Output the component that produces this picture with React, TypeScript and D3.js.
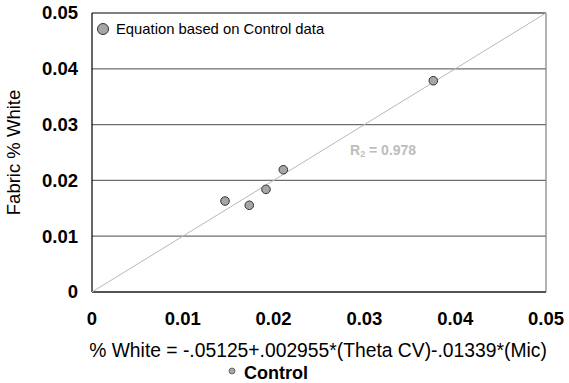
import React from "react";
import * as d3 from "d3";

const controlX = [0.01465, 0.01732, 0.01916, 0.02107, 0.03759];
const controlY = [0.0163, 0.01554, 0.01839, 0.02191, 0.03786];
const tickValues = [0, 0.01, 0.02, 0.03, 0.04, 0.05];
const tickLabels = ["0", "0.01", "0.02", "0.03", "0.04", "0.05"];
const fitLine = [0, 0.05];
const r2Label = "0.978";

export default function App() {
  const W = 569, H = 383;
  const left = 92, right = 546, top = 13, bottom = 292;
  const x = d3.scaleLinear().domain([0, 0.05]).range([left, right]);
  const y = d3.scaleLinear().domain([0, 0.05]).range([bottom, top]);
  const font = "Arial, 'Liberation Sans', sans-serif";
  return (
    <svg width={W} height={H} style={{ position: "absolute", left: 0, top: 0 }} fontFamily={font}>
      <rect x={0} y={0} width={W} height={H} fill="#fff" />
      {tickValues.slice(1, 5).map((t, i) => (
        <line key={i} x1={left} x2={right} y1={y(t)} y2={y(t)} stroke="#6e6e6e" strokeWidth={1.3} />
      ))}
      <line x1={left} x2={right} y1={top} y2={top} stroke="#000" strokeWidth={1} />
      <line x1={right} x2={right} y1={top} y2={bottom} stroke="#808080" strokeWidth={1.2} />
      <line x1={left} x2={left} y1={top} y2={bottom} stroke="#000" strokeWidth={1.2} />
      <line x1={left} x2={right} y1={bottom} y2={bottom} stroke="#555" strokeWidth={2} />
      <line x1={x(fitLine[0])} y1={y(fitLine[0])} x2={x(fitLine[1])} y2={y(fitLine[1])} stroke="#b8b8b8" strokeWidth={1} />
      {controlX.map((v, i) => (
        <circle key={i} cx={x(v)} cy={y(controlY[i])} r={4.3} fill="#a6a6a6" stroke="#333" strokeWidth={1} />
      ))}
      {tickValues.map((t, i) => (
        <text key={"y" + i} x={78} y={y(t)} dy="0.35em" textAnchor="end" fontSize={18.5} fontWeight="bold">{tickLabels[i]}</text>
      ))}
      {tickValues.map((t, i) => (
        <text key={"x" + i} x={x(t)} y={325} textAnchor="middle" fontSize={18.5} fontWeight="bold">{tickLabels[i]}</text>
      ))}
      <text transform={`translate(20,${(top + bottom) / 2}) rotate(-90)`} textAnchor="middle" fontSize={18.5}>Fabric % White</text>
      <text x={318} y={357} textAnchor="middle" fontSize={19.3}>% White = -.05125+.002955*(Theta CV)-.01339*(Mic)</text>
      <circle cx={232} cy={371} r={3} fill="#a6a6a6" stroke="#555" strokeWidth={0.8} />
      <text x={244} y={379} fontSize={18} fontWeight="bold">Control</text>
      <circle cx={103} cy={29} r={5.5} fill="#a6a6a6" stroke="#333" strokeWidth={1} />
      <text x={116} y={34} fontSize={14.8}>Equation based on Control data</text>
      <text x={350} y={155} fontSize={14} fontWeight="bold" fill="#bdbdbd">R<tspan fontSize={9} dy={2}>2</tspan><tspan dy={-2}> = {r2Label}</tspan></text>
    </svg>
  );
}
